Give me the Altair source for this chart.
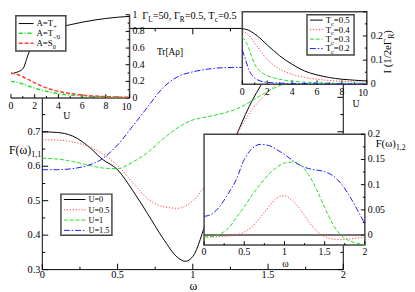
import altair as alt
import pandas as pd

FONT = "Liberation Serif"
X0, Y0, SX, SY = 8, 8, 1.0, 1.0
CW, CH = 407, 284


def px(v):
    return (v - X0) * SX


def py(v):
    return (v - Y0) * SY


# ---------------- data: main panel F(w)_{1,1} ----------------
OMEGA = [0.0, 0.1, 0.2, 0.3, 0.4, 0.5, 0.6, 0.7, 0.8, 0.9, 1.0,
         1.1, 1.2, 1.3, 1.4, 1.5, 1.6, 1.7, 1.8, 1.9, 2.0]
OMEGA_U0 = [0.0, 0.1, 0.2, 0.3, 0.4, 0.5, 0.6, 0.7, 0.8, 0.9, 0.95, 1.0,
            1.1, 1.2, 1.3, 1.4, 1.5, 1.6, 1.7, 1.8, 1.9, 2.0]
F11_U0 = [0.700, 0.698, 0.688, 0.660, 0.620, 0.590, 0.530, 0.462, 0.392, 0.335, 0.324, 0.338,
          0.455, 0.585, 0.700, 0.795, 0.865, 0.915, 0.950, 0.970, 0.982, 0.990]
F11_U05 = [0.677, 0.676, 0.671, 0.658, 0.636, 0.602, 0.553, 0.506, 0.483, 0.478, 0.500,
           0.555, 0.625, 0.700, 0.768, 0.815, 0.855, 0.885, 0.910, 0.930, 0.945]
F11_U1 = [0.623, 0.621, 0.614, 0.604, 0.595, 0.593, 0.612, 0.640, 0.678, 0.712, 0.734,
          0.744, 0.754, 0.768, 0.792, 0.818, 0.838, 0.852, 0.864, 0.874, 0.882]
F11_U15 = [0.590, 0.590, 0.593, 0.602, 0.622, 0.662, 0.716, 0.772, 0.827, 0.860, 0.874,
           0.882, 0.886, 0.887, 0.886, 0.884, 0.880, 0.876, 0.872, 0.868, 0.864]
U_LABELS = ["U=0", "U=0.5", "U=1", "U=1.5"]

# ---------------- data: top-left inset Tr[A rho] vs U ----------------
U_TL = [0, 0.5, 1, 1.5, 2, 2.5, 3, 4, 5, 6, 7, 8, 9, 10]
TR_TPLUS = [0.29, 0.31, 0.35, 0.54, 0.67, 0.745, 0.79, 0.845, 0.88, 0.91, 0.935, 0.955, 0.97, 0.98]
TR_TMINUS = [0.20, 0.19, 0.168, 0.143, 0.118, 0.097, 0.080, 0.053, 0.036, 0.025, 0.017, 0.012, 0.008, 0.006]
TR_S0 = [0.30, 0.285, 0.255, 0.22, 0.182, 0.15, 0.122, 0.080, 0.055, 0.036, 0.025, 0.017, 0.012, 0.008]

# ---------------- data: top-right inset I vs U ----------------
U_TR = [0, 0.25, 0.5, 0.75, 1, 1.5, 2, 2.5, 3, 4, 5, 6, 7, 8, 9, 10]
I_TC05 = [0.230, 0.228, 0.224, 0.217, 0.208, 0.187, 0.163, 0.140, 0.118, 0.083, 0.055, 0.039, 0.028, 0.021, 0.017, 0.014]
I_TC04 = [0.218, 0.214, 0.204, 0.188, 0.170, 0.135, 0.102, 0.080, 0.063, 0.041, 0.029, 0.021, 0.016, 0.012, 0.010, 0.008]
I_TC03 = [0.194, 0.180, 0.152, 0.115, 0.083, 0.052, 0.036, 0.027, 0.021, 0.013, 0.009, 0.007, 0.005, 0.004, 0.004, 0.003]
I_TC02 = [0.142, 0.104, 0.064, 0.040, 0.026, 0.013, 0.008, 0.006, 0.005, 0.003, 0.003, 0.002, 0.002, 0.002, 0.001, 0.001]
TC_VALUES = ["0.5", "0.4", "0.3", "0.2"]

# ---------------- data: bottom-right inset F(w)_{1,2} ----------------
F12_U0 = [0.0, 0.0, 0.0, 0.0, 0.0, 0.0, 0.0, 0.0, 0.0, 0.0, 0.0,
          0.0, 0.0, 0.0, 0.0, 0.0, 0.0, 0.0, 0.0, 0.0, 0.0]
F12_U05 = [-0.004, -0.004, -0.003, -0.002, 0.000, 0.006, 0.017, 0.035, 0.055, 0.073, 0.078,
           0.068, 0.050, 0.027, 0.008, -0.003, -0.008, -0.009, -0.008, -0.006, -0.005]
F12_U1 = [-0.004, -0.003, 0.002, 0.013, 0.034, 0.056, 0.080, 0.101, 0.120, 0.134, 0.143,
          0.145, 0.139, 0.120, 0.090, 0.055, 0.022, 0.000, -0.011, -0.016, -0.019]
F12_U15 = [0.037, 0.042, 0.058, 0.082, 0.110, 0.150, 0.172, 0.180, 0.178, 0.170, 0.160,
           0.148, 0.138, 0.132, 0.129, 0.126, 0.118, 0.103, 0.080, 0.052, 0.022]

# ---------------- styles ----------------
BLACK, RED, GREEN, BLUE = "#000000", "#ff3b3b", "#1fe01f", "#1a1aff"
DOT, DASH, DASHDOT = [1.2, 1.8], [4, 2], [6, 2, 1.5, 2]
FRAME = "#444444"

EM = {**{d: 0.5 for d in "0123456789"}, '.': 0.25, ',': 0.25, '=': 0.564, '+': 0.564,
      '-': 0.333, '/': 0.278, ' ': 0.25, 'A': 0.722, 'T': 0.611, 'S': 0.556, 'U': 0.722,
      'F': 0.556, 'I': 0.333, 'L': 0.611, 'R': 0.667, '(': 0.333, ')': 0.333, '[': 0.333,
      ']': 0.333, 'e': 0.444, 'r': 0.333, 'c': 0.444, 'Γ': 0.578, 'ω': 0.667, 'ρ': 0.5}


def tw(s, size):
    return sum(EM.get(ch, 0.5) for ch in s) * size


ONE = pd.DataFrame({"k": [0]})


def sc(domain, rng, axis):
    f = px if axis == "x" else py
    return alt.Scale(domain=domain, range=[f(r) for r in rng], nice=False, zero=False)


def text_at(s, x, y, size, align="left", baseline="alphabetic", angle=0, color=BLACK):
    kw = dict(font=FONT, fontSize=size, align=align, baseline=baseline, color=color)
    if angle:
        kw["angle"] = angle
    return alt.Chart(ONE).mark_text(**kw).encode(
        x=alt.value(px(x)), y=alt.value(py(y)), text=alt.value(s))


def rich(pieces, x, y, size, angle=0):
    out = []
    cur = x if angle == 0 else y
    for s, sub in pieces:
        fs = size * 0.7 if sub else size
        off = size * 0.28 if sub else 0
        if angle == 0:
            out.append(text_at(s, cur, y + off, fs))
            cur += tw(s, fs)
        else:
            out.append(text_at(s, x + off, cur, fs, angle=270))
            cur -= tw(s, fs)
    return out


def curve(xs, ys, xv, yv, color, dash=None, w=1.0):
    df = pd.DataFrame({"x": xv, "y": yv})
    kw = dict(color=color, strokeWidth=w, interpolate="monotone")
    if dash:
        kw["strokeDash"] = dash
    return alt.Chart(df).mark_line(**kw).encode(
        x=alt.X("x:Q", scale=xs, axis=None), y=alt.Y("y:Q", scale=ys, axis=None))


def box_scaled(xs, ys, x0, x1, y0, y1, fill="white", stroke=None, sw=1.0, fo=1.0):
    df = pd.DataFrame({"a": [x0], "b": [x1], "c": [y0], "d": [y1]})
    kw = dict(fill=fill, fillOpacity=fo)
    if stroke:
        kw["stroke"] = stroke
        kw["strokeWidth"] = sw
    return alt.Chart(df).mark_rect(**kw).encode(
        x=alt.X("a:Q", scale=xs, axis=None), x2="b:Q",
        y=alt.Y("c:Q", scale=ys, axis=None), y2="d:Q")


def box_px(x0, y0, x1, y1, stroke=FRAME, sw=1.5):
    return alt.Chart(ONE).mark_rect(fill="white", stroke=stroke, strokeWidth=sw).encode(
        x=alt.value(px(x0)), x2=alt.value(px(x1)), y=alt.value(py(y0)), y2=alt.value(py(y1)))


def seg_px(x0, x1, y0, y1, color, dash=None, w=1.0):
    kw = dict(color=color, strokeWidth=w)
    if dash:
        kw["strokeDash"] = dash
    return alt.Chart(ONE).mark_rule(**kw).encode(
        x=alt.value(px(x0)), x2=alt.value(px(x1)), y=alt.value(py(y0)), y2=alt.value(py(y1)))


def xticks(xs, vals, y, length, up=True, color=BLACK, w=1.0):
    df = pd.DataFrame({"t": vals})
    y2 = y - length if up else y + length
    return alt.Chart(df).mark_rule(color=color, strokeWidth=w).encode(
        x=alt.X("t:Q", scale=xs, axis=None), y=alt.value(py(y)), y2=alt.value(py(y2)))


def yticks(ys, vals, x, length, right=True, color=BLACK, w=1.0):
    df = pd.DataFrame({"t": vals})
    x2 = x + length if right else x - length
    return alt.Chart(df).mark_rule(color=color, strokeWidth=w).encode(
        y=alt.Y("t:Q", scale=ys, axis=None), x=alt.value(px(x)), x2=alt.value(px(x2)))


def xlabels(xs, vals, texts, y, size):
    df = pd.DataFrame({"t": vals, "s": texts})
    return alt.Chart(df).mark_text(font=FONT, fontSize=size, baseline="top", align="center").encode(
        x=alt.X("t:Q", scale=xs, axis=None), y=alt.value(py(y)), text="s:N")


def ylabels(ys, vals, texts, x, size, align):
    df = pd.DataFrame({"t": vals, "s": texts})
    return alt.Chart(df).mark_text(font=FONT, fontSize=size, baseline="middle", align=align).encode(
        y=alt.Y("t:Q", scale=ys, axis=None), x=alt.value(px(x)), text="s:N")


layers = []

# ================= main panel =================
MX = sc([0, 2], [43, 350], "x")
MY = sc([0.3, 1.0], [272, 26], "y")
MX_MAJ, MX_MIN = [0, 0.5, 1, 1.5, 2], [0.25, 0.75, 1.25, 1.75]
MY_MAJ = [0.3, 0.4, 0.5, 0.6, 0.7, 0.8, 0.9, 1.0]
MY_MIN = [0.35, 0.45, 0.55, 0.65, 0.75, 0.85, 0.95]

layers.append(box_scaled(MX, MY, 0, 2, 0.3, 1.0, fill="white", stroke=BLACK, sw=1.0, fo=0.0))
layers += [xticks(MX, MX_MAJ, 272, 6), xticks(MX, MX_MIN, 272, 3),
           xticks(MX, MX_MAJ, 26, 6, up=False), xticks(MX, MX_MIN, 26, 3, up=False),
           yticks(MY, MY_MAJ, 43, 6), yticks(MY, MY_MIN, 43, 3),
           yticks(MY, MY_MAJ, 350, 6, right=False), yticks(MY, MY_MIN, 350, 3, right=False)]
layers.append(xlabels(MX, MX_MAJ, ["0", "0.5", "1", "1.5", "2"], 273, 10.5))
layers.append(ylabels(MY, [0.3, 0.4, 0.5, 0.6, 0.7], ["0.3", "0.4", "0.5", "0.6", "0.7"], 41, 10.5, "right"))
layers.append(text_at("ω", 197, 288.5, 12, align="center", baseline="middle"))
layers += rich([("F(ω)", False), ("1,1", True)], 9, 154, 12)

MAIN_STYLE = [(BLACK, None), (RED, DOT), (GREEN, DASH), (BLUE, DASHDOT)]
layers.append(curve(MX, MY, OMEGA_U0, F11_U0, BLACK))
layers.append(curve(MX, MY, OMEGA, F11_U05, RED, DOT))
layers.append(curve(MX, MY, OMEGA, F11_U1, GREEN, DASH))
layers.append(curve(MX, MY, OMEGA, F11_U15, BLUE, DASHDOT))

# main legend
layers.append(box_px(62, 195, 114, 237))
for lab, (col, dsh), ly in zip(U_LABELS, MAIN_STYLE, [200.5, 211, 221.5, 232]):
    layers.append(seg_px(65, 87, ly, ly, col, dsh))
    layers.append(text_at(lab, 90, ly, 8.5, baseline="middle"))

# ================= top-left inset =================
TLX = sc([0, 10], [11, 132], "x")
TLY = sc([0, 1], [97, 12], "y")
layers.append(box_scaled(TLX, TLY, 0, 10, 0, 1, fill="white"))
layers.append(seg_px(11, 132, 97, 97, FRAME, w=1.5))
layers.append(seg_px(132, 132, 12, 97, FRAME, w=1.5))
layers += [xticks(TLX, [0, 2, 4, 6, 8, 10], 97, 4), xticks(TLX, [1, 3, 5, 7, 9], 97, 2),
           yticks(TLY, [0, 0.2, 0.4, 0.6, 0.8, 1.0], 132, 4, right=False),
           yticks(TLY, [0.1, 0.3, 0.5, 0.7, 0.9], 132, 2, right=False)]
layers.append(xlabels(TLX, [0, 2, 4, 6, 8], ["0", "2", "4", "6", "8"], 100, 10))
layers.append(xlabels(TLX, [9.75], ["10"], 101, 10))
layers.append(ylabels(TLY, [0, 0.2, 0.4, 0.6, 0.8, 1.0], ["0", "0.2", "0.4", "0.6", "0.8", "1"], 135, 10, "left"))
layers.append(curve(TLX, TLY, U_TL, TR_TPLUS, BLACK))
layers.append(curve(TLX, TLY, U_TL, TR_TMINUS, GREEN, [4, 2, 1, 2], 1.5))
layers.append(curve(TLX, TLY, U_TL, TR_S0, RED, [4, 2], 1.5))
layers.append(box_px(16, 13, 67, 49))
TL_LEG = [([("A=T", False), ("+", True)], BLACK, None, 21),
          ([("A=T", False), ("-/0", True)], GREEN, [4, 2, 1, 2], 31),
          ([("A=S", False), ("0", True)], RED, [4, 2], 41)]
for pieces, col, dsh, ly in TL_LEG:
    layers.append(seg_px(19, 34, ly, ly, col, dsh, 1.5 if dsh else 1.0))
    layers += rich(pieces, 37, ly + 3, 9)
layers.append(text_at("U", 68, 115, 10, align="center", baseline="middle"))
layers.append(text_at("Tr[Aρ]", 160, 50, 9.5, baseline="middle"))

# ================= top-right inset =================
TRX = sc([0, 10], [247, 374], "x")
TRY = sc([0, 0.3], [83, 9], "y")
layers.append(box_scaled(TRX, TRY, 0, 10, 0, 0.3, fill="white", stroke=FRAME, sw=1.5))
layers += [xticks(TRX, [0, 2, 4, 6, 8, 10], 83, 4), xticks(TRX, [1, 3, 5, 7, 9], 83, 2),
           yticks(TRY, [0, 0.1, 0.2, 0.3], 374, 4, right=False),
           yticks(TRY, [0.05, 0.15, 0.25], 374, 2, right=False)]
layers.append(xlabels(TRX, [0, 2, 4, 6, 8], ["0", "2", "4", "6", "8"], 86, 10))
layers.append(xlabels(TRX, [9.7], ["10"], 87, 10))
layers.append(ylabels(TRY, [0, 0.1, 0.2], ["0", "0.1", "0.2"], 378, 10, "left"))
layers.append(curve(TRX, TRY, U_TR, I_TC05, BLACK))
layers.append(curve(TRX, TRY, U_TR, I_TC04, RED, DOT))
layers.append(curve(TRX, TRY, U_TR, I_TC03, GREEN, DASH))
layers.append(curve(TRX, TRY, U_TR, I_TC02, BLUE, DASHDOT))
layers.append(box_px(313, 12, 361, 53))
for tc, (col, dsh), ly in zip(TC_VALUES, MAIN_STYLE, [17.5, 27.2, 36.9, 46.5]):
    layers.append(seg_px(316, 329, ly, ly, col, dsh))
    layers += rich([("T", False), ("c", True), ("=" + tc, False)], 332, ly + 3, 9)
layers.append(text_at("U", 363, 103, 10, align="center", baseline="middle"))
layers += rich([("I (1/2eΓ", False), ("R", True), (")", False)], 399, 72, 11, angle=270)

# ================= bottom-right inset =================
BRX = sc([0, 2], [208, 372], "x")
BRY = sc([-0.02, 0.2], [247, 134], "y")
layers.append(box_scaled(BRX, BRY, 0, 2, -0.02, 0.2, fill="white", stroke=FRAME, sw=1.5))
layers += [xticks(BRX, [0, 0.5, 1, 1.5, 2], 247, 4), xticks(BRX, [0.25, 0.75, 1.25, 1.75], 247, 2),
           yticks(BRY, [0, 0.05, 0.1, 0.15, 0.2], 372, 4, right=False),
           yticks(BRY, [0.025, 0.075, 0.125, 0.175], 372, 2, right=False)]
layers.append(xlabels(BRX, [0, 0.5, 1, 1.5, 2], ["0", "0.5", "1", "1.5", "2"], 249, 10))
layers.append(ylabels(BRY, [0, 0.05, 0.1, 0.15, 0.2], ["0", "0.05", "0.1", "0.15", "0.2"], 375, 10, "left"))
layers.append(curve(BRX, BRY, OMEGA, F12_U0, FRAME, None, 1.5))
layers.append(curve(BRX, BRY, OMEGA, F12_U05, RED, DOT))
layers.append(curve(BRX, BRY, OMEGA, F12_U1, GREEN, DASH))
layers.append(curve(BRX, BRY, OMEGA, F12_U15, BLUE, DASHDOT))
layers.append(text_at("ω", 291, 266, 10, align="center", baseline="middle"))
layers += rich([("F(ω)", False), ("1,2", True)], 383, 147, 11)

# ================= title =================
layers += rich([("Γ", False), ("L", True), ("=50, Γ", False), ("R", True),
                ("=0.5, T", False), ("c", True), ("=0.5", False)], 145, 16, 10.5)

chart = (
    alt.layer(*layers)
    .resolve_scale(x="independent", y="independent")
    .properties(width=CW, height=CH, padding=0, autosize=alt.AutoSizeParams(type="none"))
    .configure_view(strokeWidth=0)
)

chart.save("out.html", embed_options={"renderer": "svg", "actions": False})
